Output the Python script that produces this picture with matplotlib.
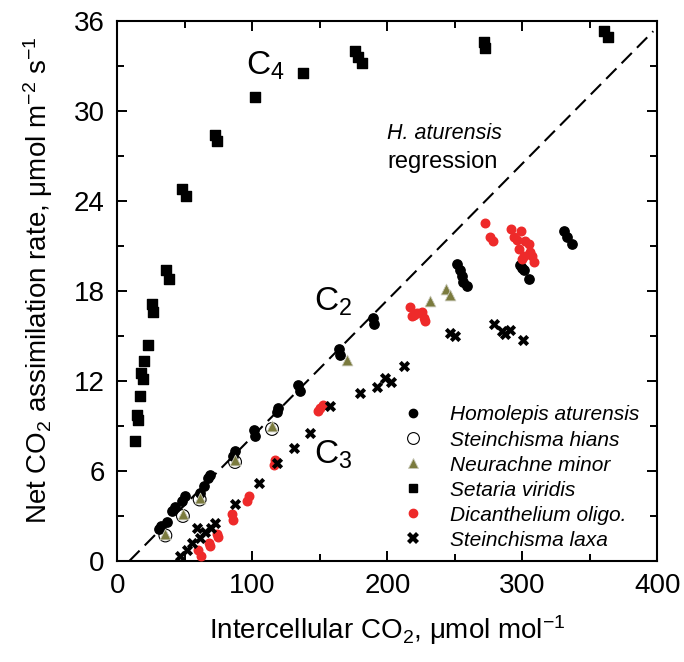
import numpy as np
import matplotlib
matplotlib.use("Agg")
import matplotlib.pyplot as plt
from matplotlib.lines import Line2D

plt.rcParams['font.family'] = ['Liberation Sans', 'DejaVu Sans']
plt.rcParams['mathtext.fontset'] = 'custom'
plt.rcParams['mathtext.rm'] = 'Liberation Sans'
plt.rcParams['mathtext.it'] = 'Liberation Sans:italic'

# Setaria viridis (C4)
setaria_x = [13.1, 14.8, 15.5, 16.5, 17.5, 18.7, 19.8, 23.0, 26.0, 26.8, 35.8, 38.3,
             47.8, 50.9, 72.5, 73.6, 102.0, 137.3, 176.0, 178.5, 181.0, 271.5, 272.5,
             360.5, 363.5]
setaria_y = [8.0, 9.7, 9.4, 11.0, 12.5, 12.1, 13.3, 14.4, 17.1, 16.6, 19.4, 18.8,
             24.8, 24.3, 28.4, 28.0, 30.9, 32.5, 34.0, 33.6, 33.2, 34.6, 34.2,
             35.3, 34.9]

# Homolepis aturensis (C2)
homolepis_x = [30.6, 32.5, 36.6, 40.3, 42.7, 47.6, 50.1, 61.3, 63.9, 67.4, 68.7, 85.9,
               87.0, 100.9, 102.1, 118.0, 119.3, 134.1, 135.3, 163.9, 165.0, 189.2,
               190.0, 251.4, 253.9, 255.3, 256.3, 258.9, 298.3, 299.5, 301.0, 304.7,
               330.6, 333.0, 336.8]
homolepis_y = [2.1, 2.3, 2.6, 3.3, 3.6, 4.0, 4.3, 4.5, 5.0, 5.5, 5.7, 7.0,
               7.3, 8.7, 8.3, 9.9, 10.2, 11.7, 11.3, 14.1, 13.7, 16.2,
               15.8, 19.8, 19.4, 19.0, 18.6, 18.3, 19.7, 19.5, 19.4, 18.8,
               22.0, 21.6, 21.1]

# Steinchisma hians
hians_x = [35.6, 48.6, 61.0, 87.2, 114.6]
hians_y = [1.7, 3.0, 4.1, 6.6, 8.8]

# Neurachne minor
neurachne_x = [35.6, 48.6, 61.0, 87.2, 114.6, 170.0, 231.6, 243.6, 246.4]
neurachne_y = [1.8, 3.1, 4.2, 6.7, 9.0, 13.4, 17.3, 18.1, 17.7]

# Dicanthelium oligosanthes (C3)
dich_x = [60.0, 61.8, 67.6, 68.5, 73.6, 74.5, 84.7, 86.0, 96.0, 97.3, 115.8, 117.0,
          148.5, 150.1, 152.5, 216.5, 218.2, 219.5, 221.9, 225.6, 226.9, 228.0,
          272.4, 276.0, 278.0, 291.6, 293.6, 296.0, 297.8, 299.0, 299.6, 301.0,
          302.0, 304.7, 305.7, 307.0, 308.4]
dich_y = [0.7, 0.3, 1.2, 1.0, 1.8, 1.6, 3.1, 2.7, 4.0, 4.3, 6.4, 6.7,
          10.0, 10.2, 10.4, 16.9, 16.3, 16.4, 16.5, 16.6, 16.2, 16.0,
          22.5, 21.6, 21.3, 22.1, 21.6, 21.4, 20.8, 22.0, 20.1, 20.3,
          21.3, 21.1, 20.6, 20.3, 19.9]

# Steinchisma laxa
laxa_x = [46.4, 51.5, 55.1, 58.8, 61.3, 65.0, 69.4, 72.4, 87.2, 104.7, 118.0, 130.6,
          142.5, 157.6, 179.9, 192.3, 198.3, 203.0, 212.0, 246.4, 250.0, 278.8,
          285.0, 287.5, 290.9, 300.3]
laxa_y = [0.3, 0.7, 1.2, 2.2, 1.5, 1.9, 2.2, 2.5, 3.8, 5.2, 6.5, 7.5,
          8.5, 10.3, 11.2, 11.6, 12.2, 11.9, 13.0, 15.2, 15.0, 15.8,
          15.3, 15.1, 15.4, 14.7]

# H. aturensis regression
reg_x = np.array([8.9, 397.0])
reg_slope = 0.091
reg_y = reg_slope * (reg_x - 8.9)

red = '#ee2a2a'
olive = '#7b7b3e'

fig = plt.figure(figsize=(6.84, 6.62), dpi=100)
ax = fig.add_axes([0.1715, 0.1526, 0.7895, 0.8157])

ax.plot(reg_x, reg_y, ls=(0, (7, 3.5)), color='black', lw=1.5, zorder=1)

ax.scatter(setaria_x, setaria_y, marker='s', s=45, c='black', zorder=3)
ax.scatter(homolepis_x, homolepis_y, marker='o', s=45, c='black', zorder=3)
ax.scatter(hians_x, hians_y, marker='o', s=85, facecolors='none',
           edgecolors='black', linewidths=0.8, zorder=4)
ax.scatter(neurachne_x, neurachne_y, marker='^', s=60, c=olive,
           edgecolors='#c8c8b8', linewidths=0.6, zorder=5)
ax.scatter(dich_x, dich_y, marker='o', s=38, c=red, zorder=3)
ax.scatter(laxa_x, laxa_y, marker='X', s=65, c='black', linewidths=0, zorder=3)

ax.set_xlim(0, 400)
ax.set_ylim(0, 36)
ax.set_xticks(np.arange(0, 401, 100))
ax.set_xticks(np.arange(0, 401, 50), minor=True)
ax.set_yticks(np.arange(0, 37, 6))
ax.set_yticks(np.arange(0, 37, 3), minor=True)
ax.tick_params(which='both', direction='in', top=True, right=True,
               width=1.4, labelsize=20)
ax.tick_params(which='major', length=7, pad=9)
ax.tick_params(which='minor', length=5)
for sp in ax.spines.values():
    sp.set_linewidth(1.5)

ax.set_xlabel('Intercellular CO$_2$, μmol mol$^{-1}$', fontsize=20, labelpad=10)
ax.set_ylabel('Net CO$_2$ assimilation rate, μmol m$^{-2}$ s$^{-1}$', fontsize=20)
ax.yaxis.set_label_coords(-0.115, 0.52)

ax.text(95, 33, 'C$_4$', fontsize=24, va='center', ha='left')
ax.text(146, 17.3, 'C$_2$', fontsize=24, va='center', ha='left')
ax.text(146, 7.1, 'C$_3$', fontsize=24, va='center', ha='left')
ax.text(200, 28.5, 'H. aturensis', fontsize=15.5, style='italic', ha='left', va='center')
ax.text(200, 26.6, 'regression', fontsize=17, ha='left', va='center')

handles = [
    Line2D([], [], ls='none', marker='o', ms=6, mfc='black', mec='black'),
    Line2D([], [], ls='none', marker='o', ms=8.5, mfc='white', mec='black', mew=0.8),
    Line2D([], [], ls='none', marker='^', ms=7.5, mfc=olive, mec='#c8c8b8', mew=0.6),
    Line2D([], [], ls='none', marker='s', ms=6, mfc='black', mec='black'),
    Line2D([], [], ls='none', marker='o', ms=6, mfc=red, mec=red),
    Line2D([], [], ls='none', marker='X', ms=8, mfc='black', mec='black', mew=0),
]
labels = ['Homolepis aturensis', 'Steinchisma hians', 'Neurachne minor',
          'Setaria viridis', 'Dicanthelium oligo.', 'Steinchisma laxa']
leg = ax.legend(handles, labels, loc='upper left', bbox_to_anchor=(0.528, 0.288),
                frameon=False, fontsize=15, handlelength=1.0, handletextpad=1.28,
                labelspacing=0.29, borderpad=0, borderaxespad=0)
for t in leg.get_texts():
    t.set_style('italic')

fig.savefig('out.png', dpi=100)
